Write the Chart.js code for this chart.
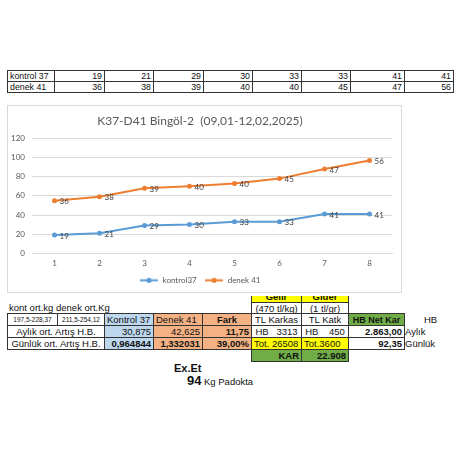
<!DOCTYPE html>
<html>
<head>
<meta charset="utf-8">
<script src="https://cdn.jsdelivr.net/npm/chart.js@4.4.1/dist/chart.umd.min.js"></script>
<style>
html, body { margin: 0; padding: 0; background: #fff; width: 465px; height: 450px; overflow: hidden; }
body { position: relative; font-family: "Liberation Sans", Arial, sans-serif; color: #111; }
.c { position: absolute; box-sizing: border-box; border: 1px solid #333; font-size: 9px; white-space: nowrap;
     overflow: hidden; padding: 0 2px; display: flex; align-items: center; }
.t { position: absolute; white-space: nowrap; line-height: 1; }
#box { position: absolute; left: 7px; top: 105px; width: 395px; height: 188px; box-sizing: border-box;
       border: 1px solid #d9d9d9; background: #fff; z-index: 5; box-shadow: 0 3px 0 0 #fff; }
#chart { position: absolute; left: 0; top: 0; }
</style>
</head>
<body>
<div id="box"><canvas id="chart" width="393" height="186"></canvas></div>
<script>
var categories = ['1', '2', '3', '4', '5', '6', '7', '8'];
var seriesNames = ['kontrol37', 'denek 41'];
var rowNames = ['kontrol 37', 'denek 41'];
var kontrol37 = [19, 21, 29, 30, 33, 33, 41, 41];
var denek41 = [36, 38, 39, 40, 40, 45, 47, 56];
var yMin = 0, yMax = 120, yStep = 20;
var chartTitle = 'K37-D41 Bingöl-2  (09,01-12,02,2025)';

var blue = '#5b9bd5', orange = '#ed7d31';
var cBlue = '#bdd7ee', cOrange = '#f4b183', cYellow = '#ffff00', cGreen = '#70ad47';

// hücre çizen yardımcı
function cell(x1, y1, x2, y2, text, o) {
    o = o || {};
    var d = document.createElement('div');
    d.className = 'c';
    d.style.left = x1 + 'px';
    d.style.top = y1 + 'px';
    d.style.width = (x2 - x1 + 1) + 'px';
    d.style.height = (y2 - y1 + 1) + 'px';
    d.style.justifyContent = o.align == 'r' ? 'flex-end' : (o.align == 'c' ? 'center' : 'flex-start');
    if (o.bg) d.style.background = o.bg;
    if (o.bold) d.style.fontWeight = 'bold';
    if (o.size) d.style.fontSize = o.size + 'px';
    if (o.bottom) d.style.alignItems = 'flex-end';
    d.textContent = text;
    document.body.appendChild(d);
}
function txt(x, y, text, size, bold) {
    var d = document.createElement('div');
    d.className = 't';
    d.style.left = x + 'px';
    d.style.top = y + 'px';
    d.style.fontSize = size + 'px';
    if (bold) d.style.fontWeight = 'bold';
    d.textContent = text;
    document.body.appendChild(d);
}

// üst tablo
var colX = [7, 54, 104, 153, 203, 252, 301, 350, 404, 453];
var rowY = [70, 81, 92];
[kontrol37, denek41].forEach(function (vals, r) {
    cell(colX[0], rowY[r], colX[1], rowY[r + 1], rowNames[r], {size: 8.8});
    vals.forEach(function (v, i) {
        cell(colX[i + 1], rowY[r], colX[i + 2], rowY[r + 1], v, {align: 'r', size: 8.8});
    });
});

// alt sol tablo
txt(9, 303, 'kont ort.kg denek ort.Kg', 9.5);
var bx = [7, 57, 104, 153, 202, 251];
var by = [313, 325, 337, 349];
cell(bx[0], by[0], bx[1], by[1], '197,5-228,37', {size: 6.5, align: 'c'});
cell(bx[1], by[0], bx[2], by[1], '211,5-254,12', {size: 6.5, align: 'c'});
cell(bx[2], by[0], bx[3], by[1], 'Kontrol 37', {size: 9.5, bg: cBlue});
cell(bx[3], by[0], bx[4], by[1], 'Denek 41', {size: 9.5, bg: cOrange});
cell(bx[4], by[0], bx[5], by[1], 'Fark', {size: 9.5, bg: cOrange, bold: true, align: 'c'});
cell(bx[0], by[1], bx[2], by[2], 'Aylık ort. Artış H.B.', {size: 9.5, align: 'c'});
cell(bx[2], by[1], bx[3], by[2], '30,875', {size: 9.5, bg: cBlue, align: 'r'});
cell(bx[3], by[1], bx[4], by[2], '42,625', {size: 9.5, bg: cOrange, align: 'r'});
cell(bx[4], by[1], bx[5], by[2], '11,75', {size: 9.5, bg: cOrange, align: 'r', bold: true});
cell(bx[0], by[2], bx[2], by[3], 'Günlük ort. Artış H.B.', {size: 9.5, align: 'c'});
cell(bx[2], by[2], bx[3], by[3], '0,964844', {size: 9.5, bg: cBlue, align: 'r', bold: true});
cell(bx[3], by[2], bx[4], by[3], '1,332031', {size: 9.5, bg: cOrange, align: 'r', bold: true});
cell(bx[4], by[2], bx[5], by[3], '39,00%', {size: 9.5, bg: cOrange, align: 'r', bold: true});

// gelir / gider
var gx = [251, 301, 348, 404];
var gy = [290, 302, 313, 325, 337, 349, 361];
cell(gx[0], gy[0], gx[1], gy[1], 'Gelir', {size: 9.5, bg: cYellow, bold: true, align: 'c', bottom: true});
cell(gx[1], gy[0], gx[2], gy[1], 'Gider', {size: 9.5, bg: cYellow, bold: true, align: 'c', bottom: true});
cell(gx[0], gy[1], gx[1], gy[2], '(470 tl/kg)', {size: 9.5, align: 'c'});
cell(gx[1], gy[1], gx[2], gy[2], '(1 tl/gr)', {size: 9.5, align: 'c'});
cell(gx[0], gy[2], gx[1], gy[3], 'TL Karkas', {size: 9.5, align: 'c'});
cell(gx[1], gy[2], gx[2], gy[3], 'TL Katk', {size: 9.5, align: 'c'});
cell(gx[0], gy[3], gx[1], gy[4], 'HB\u00a0\u00a0\u00a03313', {size: 9.5, align: 'c'});
cell(gx[1], gy[3], gx[2], gy[4], 'HB\u00a0\u00a0\u00a0\u00a0450', {size: 9.5, align: 'c'});
cell(gx[0], gy[4], gx[1], gy[5], 'Tot. 26508', {size: 9.5, bg: cYellow});
cell(gx[1], gy[4], gx[2], gy[5], 'Tot.3600', {size: 9.5, bg: cYellow});
cell(gx[0], gy[5], gx[1], gy[6], 'KAR', {size: 9.5, bg: cGreen, bold: true, align: 'r'});
cell(gx[1], gy[5], gx[2], gy[6], '22.908', {size: 9.5, bg: cGreen, bold: true, align: 'r'});
cell(gx[2], gy[2], gx[3], gy[3], 'HB Net Kar', {size: 9, bg: cGreen, bold: true, align: 'c'});
cell(gx[2], gy[3], gx[3], gy[4], '2.863,00', {size: 9.5, bold: true, align: 'r'});
cell(gx[2], gy[4], gx[3], gy[5], '92,35', {size: 9.5, bold: true, align: 'r'});
txt(424, 315, 'HB', 9.5);
txt(405, 327, 'Aylık', 9.5);
txt(405, 339, 'Günlük', 9.5);

txt(174, 363, 'Ex.Et', 11, true);
txt(187, 374, '94', 13, true);
txt(204, 377, 'Kg Padokta', 9.5);

// legend için çizgi + nokta işareti
function legendMark(color) {
    var c = document.createElement('canvas');
    c.width = 18; c.height = 7;
    var g = c.getContext('2d');
    g.strokeStyle = color; g.lineWidth = 2;
    g.beginPath(); g.moveTo(0, 3.5); g.lineTo(18, 3.5); g.stroke();
    g.fillStyle = color;
    g.beginPath(); g.arc(9, 3.5, 2.6, 0, Math.PI * 2); g.fill();
    return c;
}
var marks = [legendMark(blue), legendMark(orange)];

// noktaların yanına değerleri yaz
var valueLabels = {
    id: 'valueLabels',
    afterDatasetsDraw: function (chart) {
        var ctx = chart.ctx;
        ctx.save();
        ctx.font = '8px Lato';
        ctx.fillStyle = '#404040';
        ctx.textBaseline = 'middle';
        ctx.textAlign = 'left';
        chart.data.datasets.forEach(function (ds, i) {
            chart.getDatasetMeta(i).data.forEach(function (pt, j) {
                ctx.fillText(ds.data[j], pt.x + 5, pt.y + 1);
            });
        });
        ctx.restore();
    }
};

var ctx = document.getElementById('chart').getContext('2d');
new Chart(ctx, {
    type: 'line',
    data: {
        labels: categories,
        datasets: [{
            label: seriesNames[0],
            data: kontrol37,
            borderColor: blue,
            backgroundColor: blue,
            borderWidth: 2,
            pointRadius: 2.5,
            pointBorderWidth: 0,
            fill: false,
            tension: 0
        }, {
            label: seriesNames[1],
            data: denek41,
            borderColor: orange,
            backgroundColor: orange,
            borderWidth: 2,
            pointRadius: 2.5,
            pointBorderWidth: 0,
            fill: false,
            tension: 0
        }]
    },
    options: {
        responsive: false,
        animation: false,
        layout: { padding: { left: 0, right: 9, top: 0, bottom: -2.3 } },
        plugins: {
            title: {
                display: true,
                text: chartTitle,
                color: '#595959',
                font: { family: 'Lato', size: 12, weight: 'normal' },
                padding: { top: 8, bottom: 10 }
            },
            legend: {
                position: 'bottom',
                labels: {
                    usePointStyle: true,
                    pointStyleWidth: 19,
                    padding: 8,
                    color: '#595959',
                    font: { family: 'Lato', size: 8 },
                    generateLabels: function (chart) {
                        var items = Chart.defaults.plugins.legend.labels.generateLabels(chart);
                        items.forEach(function (it, i) { it.pointStyle = marks[i]; });
                        return items;
                    }
                }
            },
            tooltip: { enabled: false }
        },
        scales: {
            x: {
                offset: true,
                grid: { display: false, drawTicks: false },
                border: { display: true, color: '#d9d9d9' },
                ticks: { color: '#595959', font: { family: 'Lato', size: 8 }, padding: 5 },
                afterFit: function (s) { s.height = 15; }
            },
            y: {
                stacked: true,
                min: yMin,
                max: yMax,
                ticks: { stepSize: yStep, color: '#595959', font: { family: 'Lato', size: 8 }, padding: 7 },
                grid: { color: '#d9d9d9', drawTicks: false },
                border: { display: false },
                afterFit: function (s) { s.width = 24; }
            }
        }
    },
    plugins: [valueLabels]
});
</script>
</body>
</html>
